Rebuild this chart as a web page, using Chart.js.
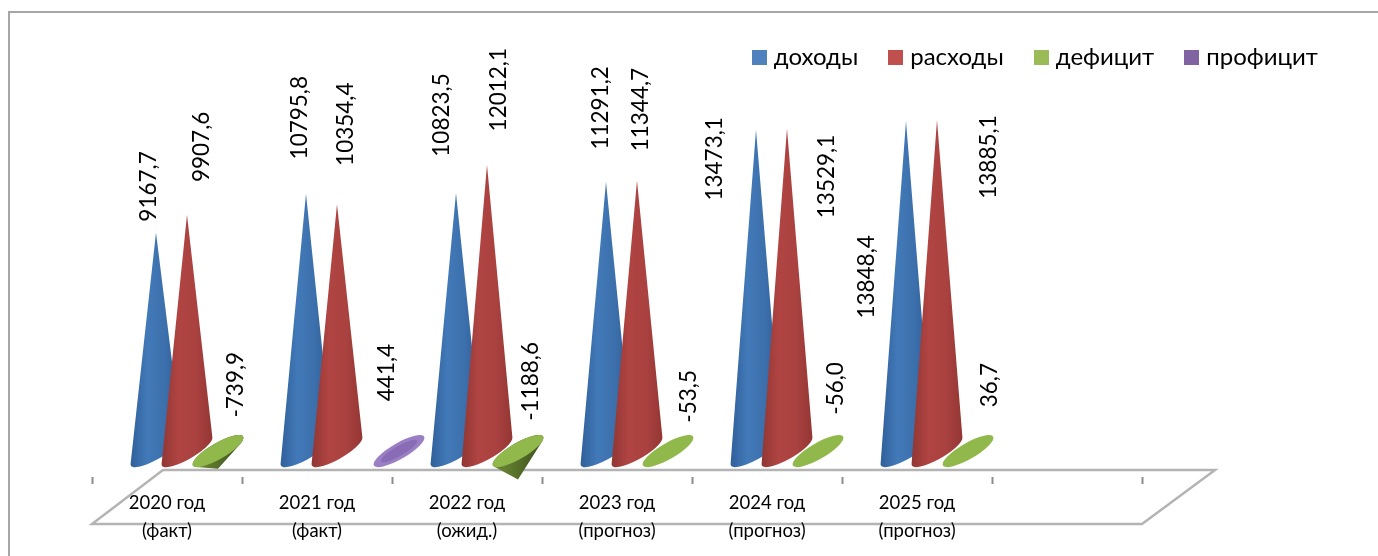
<!DOCTYPE html>
<html>
<head>
<meta charset="utf-8">
<title>Доходы и расходы</title>
<script src="https://cdn.jsdelivr.net/npm/chart.js@4/dist/chart.umd.min.js"></script>
<style>
    html, body { margin: 0; padding: 0; background: #fff; }
    canvas { display: block; }
</style>
</head>
<body>
<canvas id="chart" width="1378" height="556"></canvas>
<script>
// Chart data
const categories = [
    ['2020 год', '(факт)'],
    ['2021 год', '(факт)'],
    ['2022 год', '(ожид.)'],
    ['2023 год', '(прогноз)'],
    ['2024 год', '(прогноз)'],
    ['2025 год', '(прогноз)'],
    ''
];
const income = [9167.7, 10795.8, 10823.5, 11291.2, 13473.1, 13848.4, null];
const spending = [9907.6, 10354.4, 12012.1, 11344.7, 13529.1, 13885.1, null];
const deficit = [-739.9, null, -1188.6, -53.5, -56.0, 36.7, null];
const surplus = [null, 441.4, null, null, null, null, null];

// Value label placement, in pixels from the cone's tip
const labelShifts = [
    [[-7, -46], [-6, -76], [-14, -78], [-5, -74], [-41, 29], [-39, 156]],
    [[15, -68], [9, -80], [12, -75], [4, -71], [40, 48], [52, 37]],
    [[18, -84], null, [13, -98], [21, -56], [18, -64], [22, -65]],
    [null, [-12, -68]]
];

const FONT = 'Lato, "Open Sans", sans-serif';
const DEPTH_X = 35.5; // cones stand further back on the floor than the axis
const BASE_A = 29, BASE_B = 8, BASE_TILT = -Math.PI / 6;

function coneFill(ctx, cx, stops) {
    const g = ctx.createLinearGradient(cx - 26, 0, cx + 26, 0);
    stops.forEach((c, i) => g.addColorStop(i / (stops.length - 1), c));
    return g;
}

// 15px legend square, so the text can sit closer to it than Chart.js would put it
function swatch(color) {
    const c = document.createElement('canvas');
    c.width = c.height = 15;
    const g = c.getContext('2d');
    g.fillStyle = color;
    g.fillRect(0, 0, 15, 15);
    return c;
}

class ConeController extends Chart.BarController {
    // Chart.js draws the last dataset first, the cones need the opposite, see conesPlugin
    draw() {}

    drawCones() {
        const ctx = this.chart.ctx;
        const ds = this.getDataset();
        this._cachedMeta.data.forEach((bar, i) => {
            if (ds.data[i] === null) return;
            const cx = bar.x + DEPTH_X;
            const dy = bar.y - bar.base;
            const cos = Math.cos(BASE_TILT), sin = Math.sin(BASE_TILT);
            const qu = (dy * sin) / BASE_A;
            const qv = (dy * cos) / BASE_B;
            const dist = Math.hypot(qu, qv);

            ctx.save();
            // Only draw the side of the cone if the tip sticks out of the base
            if (dist > 1.3) {
                const mid = Math.atan2(qv, qu), spread = Math.acos(1 / dist);
                ctx.beginPath();
                ctx.moveTo(cx, bar.y);
                ctx.ellipse(cx, bar.base, BASE_A, BASE_B, BASE_TILT, mid + spread, mid - spread + Math.PI * 2);
                ctx.closePath();
                ctx.fillStyle = coneFill(ctx, cx, ds.sideColors);
                ctx.fill();
            }
            // Seen from above: the open end faces us
            if (ds.topColor && (dy > 0 || dist <= 1.3)) {
                ctx.beginPath();
                ctx.ellipse(cx, bar.base, BASE_A, BASE_B, BASE_TILT, 0, Math.PI * 2);
                ctx.fillStyle = ds.topColor;
                ctx.fill();
                if (ds.innerColor) {
                    ctx.beginPath();
                    ctx.ellipse(cx, bar.base, BASE_A * 0.72, BASE_B * 0.62, BASE_TILT, 0, Math.PI * 2);
                    ctx.fillStyle = ds.innerColor;
                    ctx.fill();
                }
            }
            ctx.restore();
        });
    }
}
ConeController.id = 'cone';
ConeController.defaults = Chart.BarController.defaults;
Chart.register(ConeController);

const floorPlugin = {
    id: 'floor',
    beforeDraw(chart) {
        const { ctx, chartArea } = chart;
        const x = chart.scales.x;
        const backY = chartArea.bottom - 7, frontY = chartArea.bottom + 47;
        ctx.save();
        // outer frame
        ctx.strokeStyle = '#a6a6a6';
        ctx.lineWidth = 2;
        ctx.beginPath();
        ctx.moveTo(9, 556);
        ctx.lineTo(9, 12);
        ctx.lineTo(1378, 12);
        ctx.stroke();
        // floor
        ctx.strokeStyle = '#b4b4b4';
        ctx.lineWidth = 2.5;
        ctx.beginPath();
        ctx.moveTo(x.left, frontY);
        ctx.lineTo(x.left + 71, backY);
        ctx.lineTo(x.right + 73, backY);
        ctx.lineTo(x.right, frontY);
        ctx.closePath();
        ctx.stroke();
        ctx.restore();
    }
};

const conesPlugin = {
    id: 'cones',
    afterDatasetsDraw(chart) {
        const ctx = chart.ctx;
        chart.data.datasets.forEach((ds, i) => chart.getDatasetMeta(i).controller.drawCones());

        // Value labels
        ctx.save();
        ctx.fillStyle = '#000';
        ctx.font = '22.5px ' + FONT;
        ctx.textAlign = 'center';
        ctx.textBaseline = 'middle';
        chart.data.datasets.forEach((ds, i) => {
            chart.getDatasetMeta(i).data.forEach((bar, j) => {
                const shift = labelShifts[i][j];
                if (ds.data[j] === null || !shift) return;
                ctx.save();
                ctx.translate(bar.x + DEPTH_X + shift[0], bar.y + shift[1]);
                ctx.rotate(-Math.PI / 2);
                ctx.fillText(ds.data[j].toFixed(1).replace('.', ','), 0, 0);
                ctx.restore();
            });
        });
        ctx.restore();
    }
};

new Chart(document.getElementById('chart'), {
    type: 'cone',
    data: {
        labels: categories,
        datasets: [
            { label: 'доходы', data: income, backgroundColor: '#4f81bd', pointStyle: swatch('#4f81bd'), sideColors: ['#2f5f99', '#4279b8', '#3c70ac', '#2c5a92'] },
            { label: 'расходы', data: spending, backgroundColor: '#c0504d', pointStyle: swatch('#c0504d'), sideColors: ['#8f3633', '#b04442', '#aa4240', '#933633'] },
            { label: 'дефицит', data: deficit, backgroundColor: '#9bbb59', pointStyle: swatch('#9bbb59'), topColor: '#90b84a', sideColors: ['#6d8a35', '#5f7a2e', '#4c6324', '#3f5220'] },
            { label: 'профицит', data: surplus, backgroundColor: '#8064a2', pointStyle: swatch('#8064a2'), topColor: '#9b7fc4', innerColor: '#8a6cb6', sideColors: ['#6f4f9c', '#6f4f9c', '#6f4f9c', '#6f4f9c'] }
        ]
    },
    options: {
        responsive: false,
        animation: false,
        categoryPercentage: 0.8267,
        barPercentage: 1,
        layout: { padding: { left: 92, right: 25, top: 10, bottom: 0 } },
        scales: {
            x: {
                type: 'category',
                offset: true,
                grid: { offset: true, drawOnChartArea: false, color: '#8c8c8c', tickLength: 7, tickWidth: 2 },
                border: { display: false },
                ticks: { color: '#000', font: { family: FONT, size: 18.5, lineHeight: 1.5 }, maxRotation: 0, autoSkip: false, padding: 5 },
                afterFit(scale) { scale.height = 79; }
            },
            y: {
                position: 'right',
                min: -1088,
                max: 15606,
                grid: { display: false },
                border: { display: false },
                ticks: { display: false },
                afterFit(scale) { scale.width = 211; }
            }
        },
        plugins: {
            tooltip: { enabled: false },
            legend: {
                position: 'top',
                align: 'end',
                labels: { color: '#000', usePointStyle: true, pointStyleWidth: 5, padding: 35, font: { family: FONT, size: 24 } }
            }
        }
    },
    plugins: [floorPlugin, conesPlugin]
});
</script>
</body>
</html>
